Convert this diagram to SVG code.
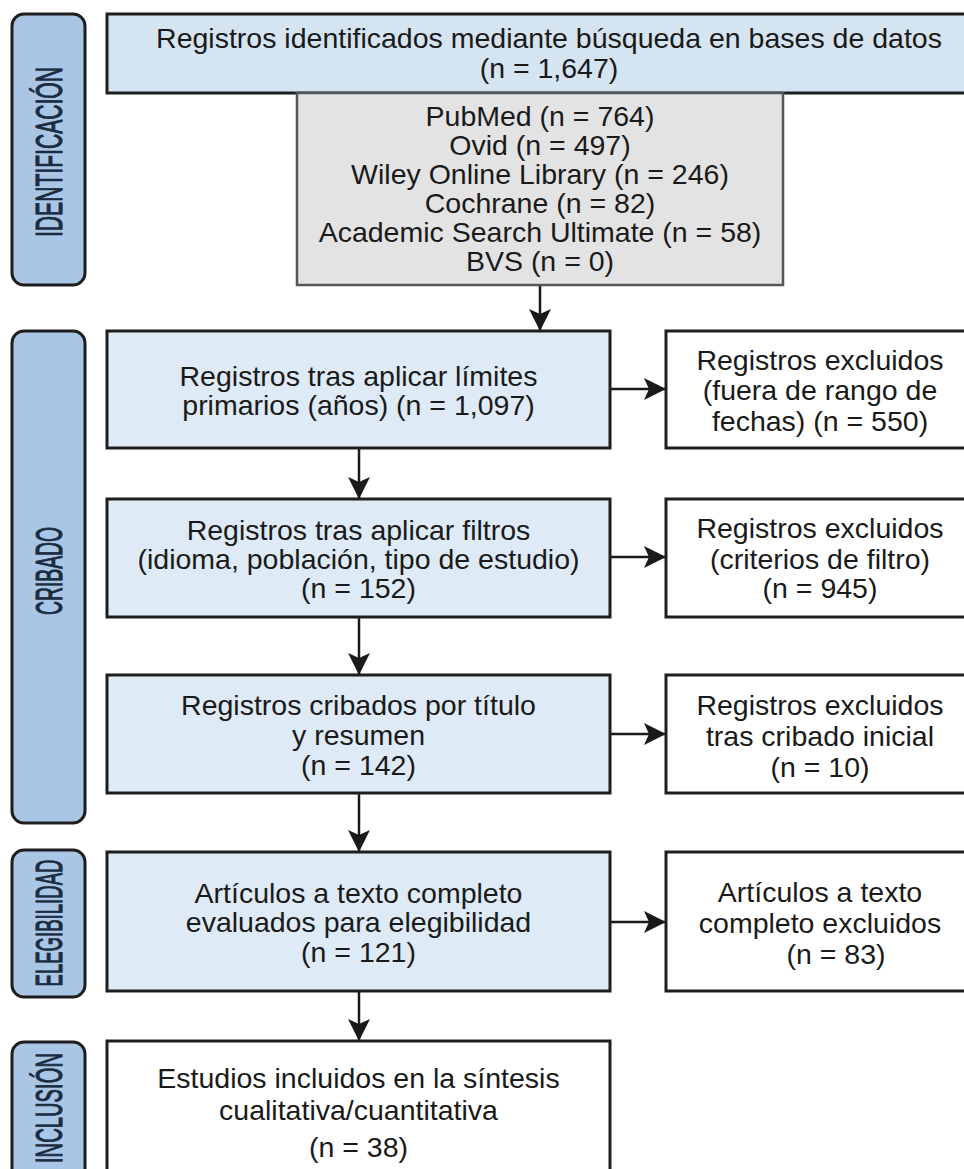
<svg xmlns="http://www.w3.org/2000/svg" width="964" height="1169" viewBox="0 0 964 1169">
<style>
.lab{fill:#a9c6e6;stroke:#1e1e1e;stroke-width:3}
.lt{font-family:"Liberation Sans",Arial,sans-serif;font-size:37px;fill:#1b2b40;stroke:#1b2b40;stroke-width:1.1;text-anchor:middle}
.bb{fill:#deeaf6;stroke:#1e1e1e;stroke-width:3}
.tb{fill:#d5e4f1;stroke:#1e1e1e;stroke-width:3}
.gb{fill:#e3e3e3;stroke:#555;stroke-width:2.5}
.wb{fill:#ffffff;stroke:#1e1e1e;stroke-width:3}
.t{font-family:"Liberation Sans",Arial,sans-serif;font-size:28.5px;fill:#1a1a1a;text-anchor:middle}
.c{stroke:#1a1a1a;stroke-width:2.5;fill:none;marker-end:url(#ah)}
</style>
<defs>
<marker id="ah" markerUnits="userSpaceOnUse" markerWidth="24" markerHeight="24" refX="22" refY="12" orient="auto">
<path d="M0,1 L22,12 L0,23 L5,12 Z" fill="#1a1a1a"/>
</marker>
</defs>
<rect width="964" height="1169" fill="#ffffff"/>

<g id="label-identificacion">
<rect class="lab" x="12" y="14" width="73" height="271" rx="12"/>
<text class="lt" transform="translate(62,152) rotate(-90)" textLength="170" lengthAdjust="spacingAndGlyphs">IDENTIFICACIÓN</text>
</g>
<g id="label-cribado">
<rect class="lab" x="12" y="331" width="73" height="492" rx="12"/>
<text class="lt" transform="translate(62,571) rotate(-90)" textLength="88" lengthAdjust="spacingAndGlyphs">CRIBADO</text>
</g>
<g id="label-elegibilidad">
<rect class="lab" x="12" y="850" width="73" height="147" rx="12"/>
<text class="lt" transform="translate(62,923) rotate(-90)" textLength="127" lengthAdjust="spacingAndGlyphs">ELEGIBILIDAD</text>
</g>
<g id="label-inclusion">
<rect class="lab" x="12" y="1042" width="73" height="150" rx="12"/>
<text class="lt" transform="translate(62,1108) rotate(-90)" textLength="110" lengthAdjust="spacingAndGlyphs">INCLUSIÓN</text>
</g>

<g id="connectors">
<line class="c" x1="540" y1="285" x2="540" y2="331"/>
<line class="c" x1="359" y1="448" x2="359" y2="499"/>
<line class="c" x1="359" y1="617" x2="359" y2="675"/>
<line class="c" x1="359" y1="793" x2="359" y2="852"/>
<line class="c" x1="359" y1="991" x2="359" y2="1041"/>
<line class="c" x1="610" y1="389" x2="666" y2="389"/>
<line class="c" x1="610" y1="557" x2="666" y2="557"/>
<line class="c" x1="610" y1="734" x2="666" y2="734"/>
<line class="c" x1="610" y1="922" x2="666" y2="922"/>
</g>

<g id="node-identificados">
<rect class="tb" x="107" y="14" width="870" height="79"/>
<text class="t" x="549" y="48">Registros identificados mediante búsqueda en bases de datos</text>
<text class="t" x="549" y="78">(n = 1,647)</text>
</g>
<g id="node-bases">
<rect class="gb" x="297" y="93" width="486" height="192"/>
<text class="t" x="540" y="126">PubMed (n = 764)</text>
<text class="t" x="540" y="155">Ovid (n = 497)</text>
<text class="t" x="540" y="184">Wiley Online Library (n = 246)</text>
<text class="t" x="540" y="213">Cochrane (n = 82)</text>
<text class="t" x="540" y="242">Academic Search Ultimate (n = 58)</text>
<text class="t" x="540" y="271">BVS (n = 0)</text>
</g>
<g id="node-limites">
<rect class="bb" x="107" y="331" width="503" height="117"/>
<text class="t" x="358.5" y="386">Registros tras aplicar límites</text>
<text class="t" x="358.5" y="415">primarios (años) (n = 1,097)</text>
</g>
<g id="node-excl-fechas">
<rect class="wb" x="666" y="331" width="311" height="117"/>
<text class="t" x="820" y="370">Registros excluidos</text>
<text class="t" x="820" y="400">(fuera de rango de</text>
<text class="t" x="820" y="431">fechas) (n = 550)</text>
</g>
<g id="node-filtros">
<rect class="bb" x="107" y="499" width="503" height="118"/>
<text class="t" x="358.5" y="540">Registros tras aplicar filtros</text>
<text class="t" x="358.5" y="569">(idioma, población, tipo de estudio)</text>
<text class="t" x="358.5" y="598">(n = 152)</text>
</g>
<g id="node-excl-filtro">
<rect class="wb" x="666" y="499" width="311" height="118"/>
<text class="t" x="820" y="538">Registros excluidos</text>
<text class="t" x="820" y="569">(criterios de filtro)</text>
<text class="t" x="820" y="598">(n = 945)</text>
</g>
<g id="node-cribados">
<rect class="bb" x="107" y="675" width="503" height="118"/>
<text class="t" x="358.5" y="715">Registros cribados por título</text>
<text class="t" x="358.5" y="745">y resumen</text>
<text class="t" x="358.5" y="775">(n = 142)</text>
</g>
<g id="node-excl-cribado">
<rect class="wb" x="666" y="675" width="311" height="118"/>
<text class="t" x="820" y="715">Registros excluidos</text>
<text class="t" x="820" y="746">tras cribado inicial</text>
<text class="t" x="820" y="777">(n = 10)</text>
</g>
<g id="node-texto-completo">
<rect class="bb" x="107" y="852" width="503" height="139"/>
<text class="t" x="358.5" y="903">Artículos a texto completo</text>
<text class="t" x="358.5" y="932">evaluados para elegibilidad</text>
<text class="t" x="358.5" y="962">(n = 121)</text>
</g>
<g id="node-excl-texto">
<rect class="wb" x="666" y="852" width="311" height="139"/>
<text class="t" x="820" y="902">Artículos a texto</text>
<text class="t" x="820" y="933">completo excluidos</text>
<text class="t" x="836" y="964">(n = 83)</text>
</g>
<g id="node-incluidos">
<rect class="wb" x="107" y="1041" width="503" height="150"/>
<text class="t" x="358.5" y="1088">Estudios incluidos en la síntesis</text>
<text class="t" x="358.5" y="1120">cualitativa/cuantitativa</text>
<text class="t" x="358.5" y="1157">(n = 38)</text>
</g>
</svg>
